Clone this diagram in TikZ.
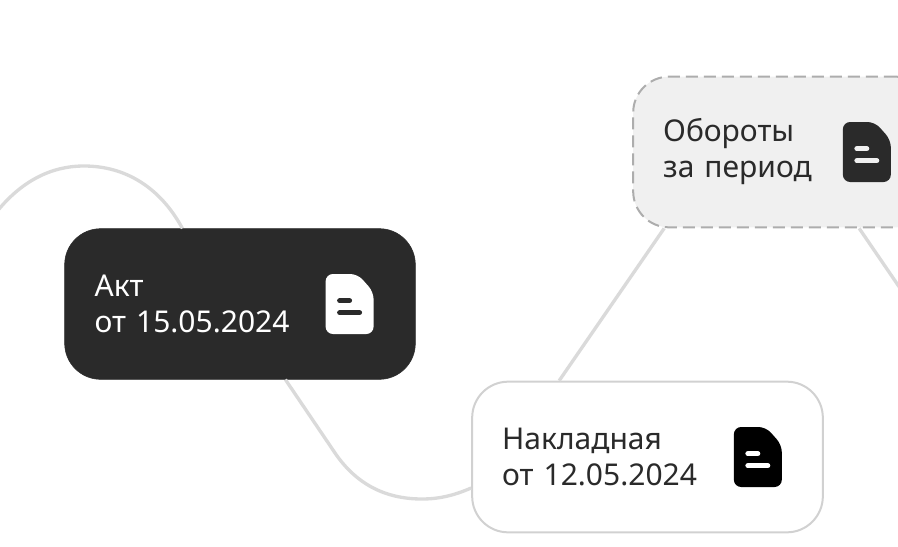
\documentclass[tikz,border=0pt]{standalone}
\usepackage{fontspec}
\setmainfont[WordSpace=0.8]{Noto Sans}
\usetikzlibrary{calc}
\definecolor{nodedark}{HTML}{2A2A2A}
\definecolor{nodegrey}{HTML}{F0F0F0}
\definecolor{linegrey}{HTML}{DADADA}
\tikzset{
  docbox/.style={rounded corners=27pt,minimum height=113pt,text width=218pt,inner xsep=22.5pt,inner ysep=0pt,align=left,font=\fontsize{22.5}{27}\selectfont},
  link/.style={linegrey,line width=2.5pt}
}
% page icon: centre, sheet colour, bar colour
\newcommand{\docsheet}[3]{
  \fill[#2,rounded corners=5.5pt] ($(#1)+(-24,-30)$) -- ($(#1)+(8,-30)$) -- ($(#1)+(24,-12)$) -- ($(#1)+(24,30)$) -- ($(#1)+(-24,30)$) -- cycle;
  \draw[#3,line width=3.7pt,line cap=round] ($(#1)+(-10,-3.3)$) -- ($(#1)+(0,-3.3)$);
  \draw[#3,line width=3.7pt,line cap=round] ($(#1)+(-10,8.7)$) -- ($(#1)+(10,8.7)$);
}
\begin{document}
\begin{tikzpicture}[x=0.75pt,y=-0.75pt]
\useasboundingbox (0,0) rectangle (898,546);
% Documents
\node[docbox,fill=nodedark,text=white,draw=nodedark] (akt) at (240,304) {Акт\\от 15.05.2024};
\node[docbox,fill=white,text=nodedark,draw=black!18,line width=1.5pt] (nakl) at (647.5,457) {Накладная\\от 12.05.2024};
\node[docbox,text width=179pt,fill=nodegrey,text=nodedark,draw=black!32,line width=1.5pt,dash pattern=on 9pt off 4.5pt] (obor) at (782.5,152) {Обороты\\за период};
% Free ends, off the page
\coordinate (leftend) at (-5,214);
\coordinate (rightend) at (902,291);
% Links
\draw[link] ($(akt.north west)+(118,0)$) .. controls (160,187) and (125,166) .. (84,166) .. controls (50,166) and (20,182) .. (leftend);
\draw[link] ($(akt.south west)+(221,0)$) -- (333,450) .. controls (355,484) and (385,499) .. (422,499) .. controls (440,499) and (455,495) .. ($(nakl.west)+(0,31)$);
\draw[link] ($(obor.south west)+(32,0)$) -- ($(nakl.north west)+(88,0)$);
\draw[link] ($(obor.south west)+(227,0)$) -- (rightend);
% Icons
\coordinate (akticon) at ($(akt.east)+(-66,0)$);
\coordinate (naklicon) at ($(nakl.east)+(-66,0)$);
\coordinate (oboricon) at ($(obor.east)+(-66,0)$);
\docsheet{akticon}{white}{nodedark}
\docsheet{naklicon}{black}{white}
\docsheet{oboricon}{nodedark}{nodegrey}
\end{tikzpicture}
\end{document}
